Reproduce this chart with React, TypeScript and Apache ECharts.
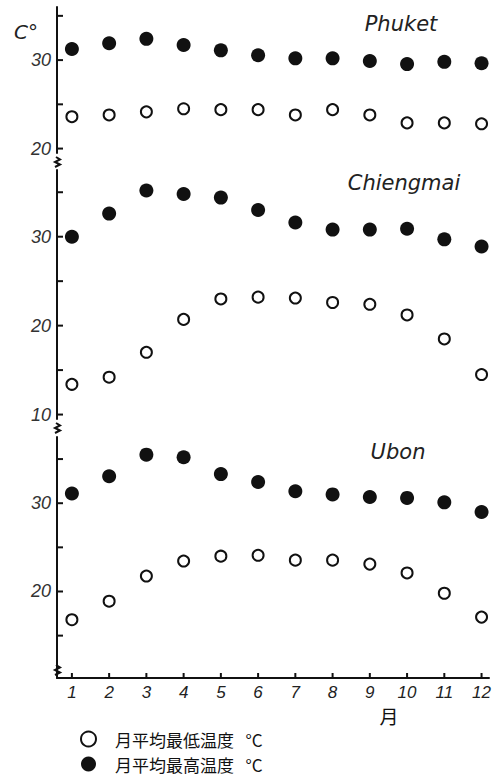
import React, { useEffect, useRef } from "react";
import * as echarts from "echarts";

// Monthly mean temperatures (°C) at three Thai stations
const months = [1, 2, 3, 4, 5, 6, 7, 8, 9, 10, 11, 12];

const phuketHigh = [31.25, 31.9, 32.4, 31.7, 31.1, 30.55, 30.2, 30.2, 29.9, 29.55, 29.8, 29.65];
const phuketLow = [23.6, 23.8, 24.15, 24.5, 24.4, 24.4, 23.8, 24.4, 23.8, 22.9, 22.9, 22.8];

const chiengmaiHigh = [30.0, 32.6, 35.2, 34.8, 34.4, 33.0, 31.6, 30.8, 30.8, 30.9, 29.7, 28.9];
const chiengmaiLow = [13.4, 14.2, 17.0, 20.7, 23.0, 23.2, 23.1, 22.6, 22.4, 21.2, 18.5, 14.5];

const ubonHigh = [31.1, 33.05, 35.5, 35.2, 33.3, 32.4, 31.35, 31.0, 30.7, 30.6, 30.1, 29.0];
const ubonLow = [16.8, 18.9, 21.75, 23.45, 24.0, 24.1, 23.55, 23.55, 23.1, 22.1, 19.8, 17.1];

const stations = ["Phuket", "Chiengmai", "Ubon"];
const lowName = "月平均最低温度   °C";
const highName = "月平均最高温度   °C";
const monthLabel = "月";
const unitLabel = "C°";

// per-panel y ranges, tick values and labelled values
const yRanges = [
  { min: 19.5, max: 36, ticks: [20, 25, 30, 35], labels: [20, 30] },
  { min: 9.5, max: 37.5, ticks: [10, 15, 20, 25, 30, 35], labels: [10, 20, 30] },
  { min: 10.2, max: 37.5, ticks: [15, 20, 25, 30, 35], labels: [20, 30] },
];
const X_MIN = 0.6;
const X_MAX = 12.2;

const INK = "#111";
const NUM_FONT = "Liberation Sans";

const pair = (vals: number[]) => vals.map((v, i) => [months[i], v]);

export default function App() {
  const ref = useRef<HTMLDivElement>(null);

  useEffect(() => {
    if (!ref.current) return;
    const chart = echarts.init(ref.current, undefined, { renderer: "svg" });

    const left = 57;
    const width = 432;
    const grids = [
      { left, width, top: 7, height: 146 },
      { left, width, top: 170, height: 249 },
      { left, width, top: 437, height: 241 },
    ];

    const xAxes = grids.map((_, i) => ({
      type: "value" as const,
      gridIndex: i,
      min: X_MIN,
      max: X_MAX,
      show: i === 2,
      splitLine: { show: false },
      axisLine: { show: true, onZero: false, lineStyle: { color: INK, width: 2 } },
      axisTick: { show: false },
      axisLabel: {
        customValues: months,
        margin: 6,
        fontSize: 17,
        fontStyle: "italic",
        fontFamily: NUM_FONT,
        color: "#222",
      },
    }));

    const yAxes = yRanges.map((r, i) => ({
      type: "value" as const,
      gridIndex: i,
      min: r.min,
      max: r.max,
      splitLine: { show: false },
      axisLine: { show: true, onZero: false, lineStyle: { color: INK, width: 2 } },
      axisTick: { show: false },
      axisLabel: {
        customValues: r.labels,
        margin: 6,
        fontSize: 18,
        fontStyle: "italic",
        fontFamily: NUM_FONT,
        color: "#333",
      },
    }));

    const highs = [phuketHigh, chiengmaiHigh, ubonHigh];
    const lows = [phuketLow, chiengmaiLow, ubonLow];

    const series: any[] = [];
    for (let i = 0; i < 3; i++) {
      // short inward tick marks on the temperature axis
      series.push({
        type: "custom",
        xAxisIndex: i,
        yAxisIndex: i,
        silent: true,
        data: yRanges[i].ticks.map((v) => [X_MIN, v]),
        renderItem: (_p: any, api: any) => {
          const pt = api.coord([api.value(0), api.value(1)]);
          return {
            type: "line",
            shape: { x1: pt[0], y1: pt[1], x2: pt[0] + 6, y2: pt[1] },
            style: { stroke: INK, lineWidth: 2 },
          };
        },
      });
      series.push({
        type: "scatter",
        name: lowName,
        xAxisIndex: i,
        yAxisIndex: i,
        symbol: "emptyCircle",
        symbolSize: 11,
        itemStyle: { color: INK, borderColor: INK, borderWidth: 2, opacity: 1 },
        data: pair(lows[i]),
      });
      series.push({
        type: "scatter",
        name: highName,
        xAxisIndex: i,
        yAxisIndex: i,
        symbol: "circle",
        symbolSize: 14,
        itemStyle: { color: INK, opacity: 1 },
        data: pair(highs[i]),
      });
    }
    // month ticks on the bottom axis
    series.push({
      type: "custom",
      xAxisIndex: 2,
      yAxisIndex: 2,
      silent: true,
      data: months.map((m) => [m, yRanges[2].min]),
      renderItem: (_p: any, api: any) => {
        const pt = api.coord([api.value(0), api.value(1)]);
        return {
          type: "line",
          shape: { x1: pt[0], y1: pt[1], x2: pt[0], y2: pt[1] - 5 },
          style: { stroke: INK, lineWidth: 2 },
        };
      },
    });

    const titleStyle = {
      fontSize: 21,
      fontStyle: "italic",
      fontFamily: "DejaVu Sans",
      fill: "#222",
      align: "center",
      verticalAlign: "middle",
    };

    // axis-break zigzag marks
    const zig = (x: number, y: number) => ({
      type: "polyline",
      shape: {
        points: [
          [x - 1, y],
          [x + 3, y + 2.5],
          [x - 2, y + 5],
          [x + 3, y + 7.5],
          [x - 2, y + 10],
        ],
      },
      style: { stroke: INK, lineWidth: 2, fill: "none" },
    });

    chart.setOption({
      animation: false,
      backgroundColor: "#fff",
      grid: grids,
      xAxis: xAxes,
      yAxis: yAxes,
      series,
      legend: {
        orient: "vertical",
        left: 75,
        top: 724,
        itemGap: 5,
        itemWidth: 15,
        itemHeight: 15,
        selectedMode: false,
        data: [
          { name: lowName, icon: "emptyCircle" },
          { name: highName, icon: "circle" },
        ],
        textStyle: {
          fontSize: 17,
          lineHeight: 20,
          color: "#111",
          fontFamily: "Noto Sans CJK JP",
          padding: [0, 0, 0, 14],
        },
      },
      graphic: [
        { type: "text", x: 401, y: 24, style: { ...titleStyle, text: stations[0] } },
        { type: "text", x: 404, y: 183, style: { ...titleStyle, text: stations[1] } },
        { type: "text", x: 398, y: 452, style: { ...titleStyle, text: stations[2] } },
        {
          type: "text",
          x: 26,
          y: 32,
          style: { text: unitLabel, fontSize: 20, fontStyle: "italic", fontFamily: "DejaVu Sans", fill: "#222", align: "center", verticalAlign: "middle" },
        },
        {
          type: "text",
          x: 389,
          y: 715,
          style: { text: monthLabel, fontSize: 19, fontFamily: "Noto Sans CJK JP", fill: "#111", align: "center", verticalAlign: "middle" },
        },
        zig(57, 157),
        zig(57, 423),
        { type: "rect", shape: { x: 52, y: 664, width: 10, height: 12 }, style: { fill: "#fff" } },
        zig(57, 665),
      ],
    });

    return () => chart.dispose();
  }, []);

  return (
    <div
      ref={ref}
      style={{ position: "fixed", left: 0, top: 0, width: 504, height: 779, background: "#fff" }}
    />
  );
}
